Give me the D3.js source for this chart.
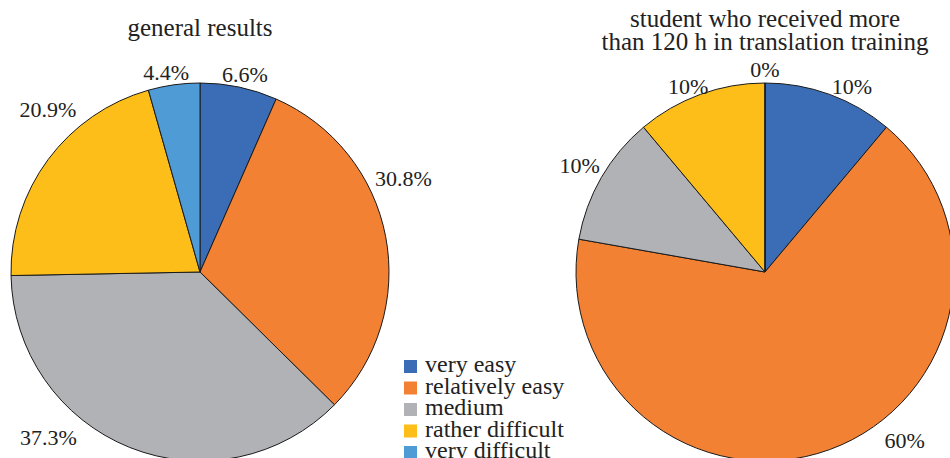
<!DOCTYPE html>
<meta charset="utf-8">
<style>
    body { margin: 0; background: #fff; }
    svg { display: block; }
    text { font-family: "Liberation Serif", "DejaVu Serif", serif; fill: #222; }
    path.slice { stroke: #1a1a1a; stroke-width: 1; }
</style>
<body>
<script src="https://cdn.jsdelivr.net/npm/d3@7"></script>
<script>

    var width = 950;
    var height = 458;

    // data
    var categories = ["very easy", "relatively easy", "medium", "rather difficult", "very difficult"];
    var generalValues = [6.6, 30.8, 37.3, 20.9, 4.4];
    var generalLabels = ["6.6%", "30.8%", "37.3%", "20.9%", "4.4%"];
    var trainedValues = [10, 60, 10, 10, 0];
    var trainedLabels = ["10%", "60%", "10%", "10%", "0%"];
    var titles = [["general results"], ["student who received more", "than 120 h in translation training"]];

    var colors = ["#3a6db6", "#f28133", "#b1b2b6", "#fdbe19", "#4e9bd6"];

    // label placement: angle (deg, clockwise from top) and distance from centre
    var generalLabelPos = [[12.8, 203], [65.2, 224], [222.6, 224], [317, 223], [350.4, 203]];
    var trainedLabelPos = [[25.1, 205], [140.4, 219], [300, 214], [337.5, 201], [360, 203]];

    var RADIUS = 189;

    var svg = d3.select("body").append("svg")
        .attr("width", width)
        .attr("height", height);

    var color = d3.scaleOrdinal().domain(categories).range(colors);
    var pie = d3.pie().sort(null).value(function (d) { return d.value; });
    var arc = d3.arc().innerRadius(0).outerRadius(RADIUS);

    function drawPie(cx, cy, values, labels, labelPos, title, titleY) {
        var g = svg.append("g").attr("transform", "translate(" + cx + "," + cy + ")");
        var data = categories.map(function (c, i) {
            return {key: c, value: values[i], label: labels[i], pos: labelPos[i]};
        });

        g.selectAll("path.slice")
            .data(pie(data))
            .enter()
            .append("path")
            .attr("class", "slice")
            .attr("d", arc)
            .style("fill", function (d) { return color(d.data.key); });

        g.selectAll("text.label")
            .data(data)
            .enter()
            .append("text")
            .attr("class", "label")
            .attr("text-anchor", "middle")
            .attr("dy", "0.35em")
            .style("font-size", "22px")
            .attr("x", function (d) { return d.pos[1] * Math.sin(d.pos[0] * Math.PI / 180); })
            .attr("y", function (d) { return -d.pos[1] * Math.cos(d.pos[0] * Math.PI / 180); })
            .text(function (d) { return d.label; });

        svg.append("text")
            .attr("text-anchor", "middle")
            .attr("x", cx)
            .attr("y", titleY)
            .style("font-size", "25px")
            .selectAll("tspan")
            .data(title)
            .enter()
            .append("tspan")
            .attr("x", cx)
            .attr("dy", function (d, i) { return i === 0 ? 0 : 23; })
            .text(function (d) { return d; });
    }

    drawPie(200, 272, generalValues, generalLabels, generalLabelPos, titles[0], 36);
    drawPie(765, 272, trainedValues, trainedLabels, trainedLabelPos, titles[1], 27);

    // legend
    var legend = svg.append("g").attr("transform", "translate(404,360)");
    var rows = legend.selectAll("g.row")
        .data(categories)
        .enter()
        .append("g")
        .attr("class", "row")
        .attr("transform", function (d, i) { return "translate(0," + (i * 21.5) + ")"; });

    rows.append("rect")
        .attr("width", 13)
        .attr("height", 13)
        .style("fill", function (d) { return color(d); });

    rows.append("text")
        .attr("x", 21)
        .attr("y", 12)
        .style("font-size", "24px")
        .text(function (d) { return d; });

</script>
</body>
